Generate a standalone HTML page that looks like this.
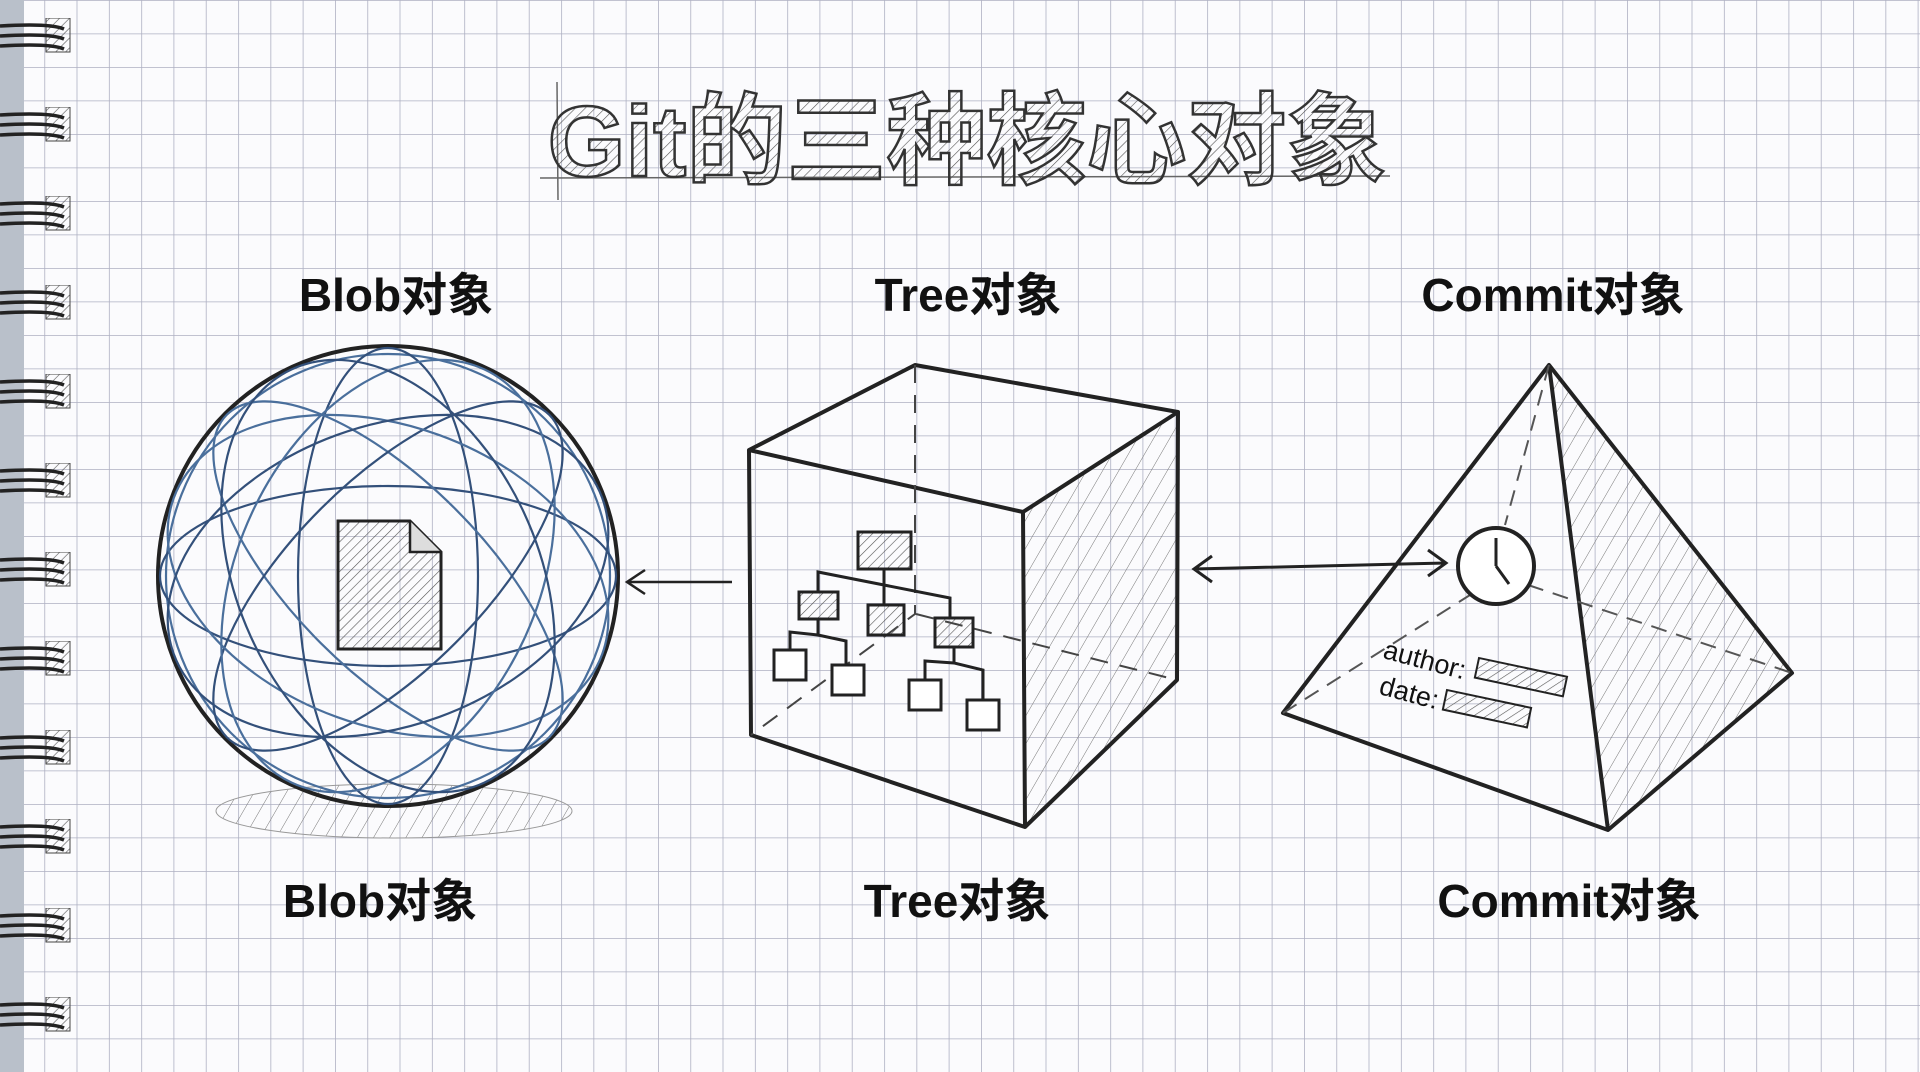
<!DOCTYPE html>
<html><head><meta charset="utf-8"><style>
html,body{margin:0;padding:0;background:#fff;}
svg{display:block;}
text{font-family:"Liberation Sans","Noto Sans CJK SC",sans-serif;}
</style></head><body>
<svg width="1920" height="1072" viewBox="0 0 1920 1072" xmlns="http://www.w3.org/2000/svg">
<defs>
<pattern id="grid" x="12" y="0" width="32.3" height="33.5" patternUnits="userSpaceOnUse">
<path d="M0 0V33.5M0 0H32.3" stroke="#aeb0c2" stroke-width="1.6" fill="none"/>
</pattern>
<pattern id="hatch" width="7" height="7" patternUnits="userSpaceOnUse" patternTransform="rotate(45)">
<line x1="0" y1="0" x2="0" y2="7" stroke="#555" stroke-width="1.2"/>
</pattern>
<pattern id="hatch2" width="14" height="14" patternUnits="userSpaceOnUse" patternTransform="rotate(30)">
<line x1="0" y1="0" x2="0" y2="14" stroke="#777" stroke-width="1"/>
</pattern>
<pattern id="ring" x="0" y="18" width="75" height="89" patternUnits="userSpaceOnUse">
<rect x="46" y="0" width="24" height="34" fill="url(#hatch)" stroke="#444" stroke-width="1"/>
<path d="M0 8 Q50 5 64 11 M0 18 Q50 15 64 21 M0 28 Q50 25 64 31" stroke="#222" stroke-width="3.5" fill="none"/>
</pattern>
</defs>
<rect width="1920" height="1072" fill="#fbfbfd"/>
<rect width="1920" height="1072" fill="url(#grid)"/>
<rect x="0" y="0" width="24" height="1072" fill="#b9c0ca"/>
<rect x="0" y="0" width="75" height="1072" fill="url(#ring)"/>

<!-- title -->
<line x1="540" y1="178" x2="1390" y2="176" stroke="#666" stroke-width="1.5"/>
<line x1="557" y1="82" x2="558" y2="200" stroke="#666" stroke-width="1.5"/>
<text x="967" y="176" text-anchor="middle" font-size="100" font-weight="bold" fill="url(#hatch)" stroke="#333" stroke-width="2.5">Git的三种核心对象</text>

<!-- labels -->
<g font-size="46" font-weight="bold" fill="#111" text-anchor="middle">
<text x="396" y="311">Blob对象</text>
<text x="968" y="311">Tree对象</text>
<text x="1553" y="311">Commit对象</text>
<text x="380" y="917">Blob对象</text>
<text x="957" y="917">Tree对象</text>
<text x="1569" y="917">Commit对象</text>
</g>

<!-- sphere -->
<ellipse cx="394" cy="811" rx="178" ry="27" fill="url(#hatch2)" stroke="#999" stroke-width="1"/>
<g fill="none" stroke-width="2.2">
<circle cx="388" cy="576" r="230" stroke="#222" stroke-width="4"/>
<circle cx="388" cy="576" r="222" stroke="#4a6f9c"/>
<ellipse cx="388" cy="576" rx="228" ry="90" stroke="#33507a"/>
<ellipse cx="388" cy="576" rx="90" ry="228" stroke="#33507a"/>
<ellipse cx="388" cy="576" rx="228" ry="95" stroke="#4a6f9c" transform="rotate(45 388 576)"/>
<ellipse cx="388" cy="576" rx="228" ry="95" stroke="#33507a" transform="rotate(-45 388 576)"/>
<ellipse cx="388" cy="576" rx="228" ry="150" stroke="#4a6f9c" transform="rotate(20 388 576)"/>
<ellipse cx="388" cy="576" rx="228" ry="150" stroke="#33507a" transform="rotate(-20 388 576)"/>
<ellipse cx="388" cy="576" rx="150" ry="228" stroke="#4a6f9c" transform="rotate(25 388 576)"/>
<ellipse cx="388" cy="576" rx="150" ry="228" stroke="#33507a" transform="rotate(-25 388 576)"/>
</g>
<path d="M338 521H410L441 552V649H338Z" fill="url(#hatch)" stroke="#222" stroke-width="3"/>
<path d="M410 521V552H441" fill="#ddd" stroke="#222" stroke-width="2.5"/>

<!-- arrow tree->blob -->
<path d="M732 582H627M645 570L627 582L645 594" stroke="#222" stroke-width="2.5" fill="none"/>

<!-- cube -->
<path d="M1023 512L1178 412L1177 680L1025 827Z" fill="url(#hatch2)"/>
<g stroke="#222" stroke-width="4" fill="none" stroke-linejoin="round">
<path d="M749 450L915 365L1178 412L1023 512Z"/>
<path d="M749 450L751 735L1025 827L1023 512"/>
<path d="M1178 412L1177 680L1025 827"/>
</g>
<g stroke="#444" stroke-width="2" stroke-dasharray="18 12" fill="none">
<path d="M915 365V614L751 735M916 614L1177 680"/>
</g>
<g stroke="#222" stroke-width="3" fill="none">
<path d="M884 569V580M818 592V572L950 598V618M884 580V605M818 619V635L846 641V665M790 650V632L818 635M954 647V663L983 670V700M925 680V661L954 663"/>
</g>
<g stroke="#222" stroke-width="3">
<rect x="858" y="532" width="53" height="37" fill="url(#hatch)"/>
<rect x="799" y="592" width="39" height="27" fill="url(#hatch)"/>
<rect x="868" y="605" width="36" height="30" fill="url(#hatch)"/>
<rect x="935" y="618" width="38" height="29" fill="url(#hatch)"/>
<rect x="774" y="650" width="32" height="30" fill="#fff"/>
<rect x="832" y="665" width="32" height="30" fill="#fff"/>
<rect x="909" y="680" width="32" height="30" fill="#fff"/>
<rect x="967" y="700" width="32" height="30" fill="#fff"/>
</g>

<!-- pyramid -->
<path d="M1549 365L1792 673L1608 830Z" fill="url(#hatch2)"/>
<g stroke="#222" stroke-width="4" fill="none" stroke-linejoin="round">
<path d="M1549 365L1283 713L1608 830L1792 673Z"/>
<path d="M1549 365L1608 830"/>
</g>
<path d="M1283 713L1470 595M1528 585L1792 673M1549 365L1505 525" stroke="#555" stroke-width="2" stroke-dasharray="16 10" fill="none"/>

<!-- double arrow -->
<path d="M1194 569L1446 563M1212 556L1194 569L1212 582M1428 550L1446 563L1428 576" stroke="#222" stroke-width="3" fill="none"/>

<circle cx="1496" cy="566" r="38" fill="#fff" stroke="#222" stroke-width="4"/>
<path d="M1496 566V538M1496 566L1509 584" stroke="#222" stroke-width="3"/>
<g transform="rotate(15 1384 650)">
<text x="1384" y="658" font-size="27" fill="#111">author:</text>
</g>
<rect x="1479" y="658" width="90" height="20" fill="url(#hatch)" stroke="#222" stroke-width="2" transform="rotate(12 1479 658)"/>
<g transform="rotate(15 1380 686)">
<text x="1380" y="694" font-size="27" fill="#111">date:</text>
</g>
<rect x="1447" y="690" width="86" height="20" fill="url(#hatch)" stroke="#222" stroke-width="2" transform="rotate(12 1447 690)"/>
</svg>
</body></html>
